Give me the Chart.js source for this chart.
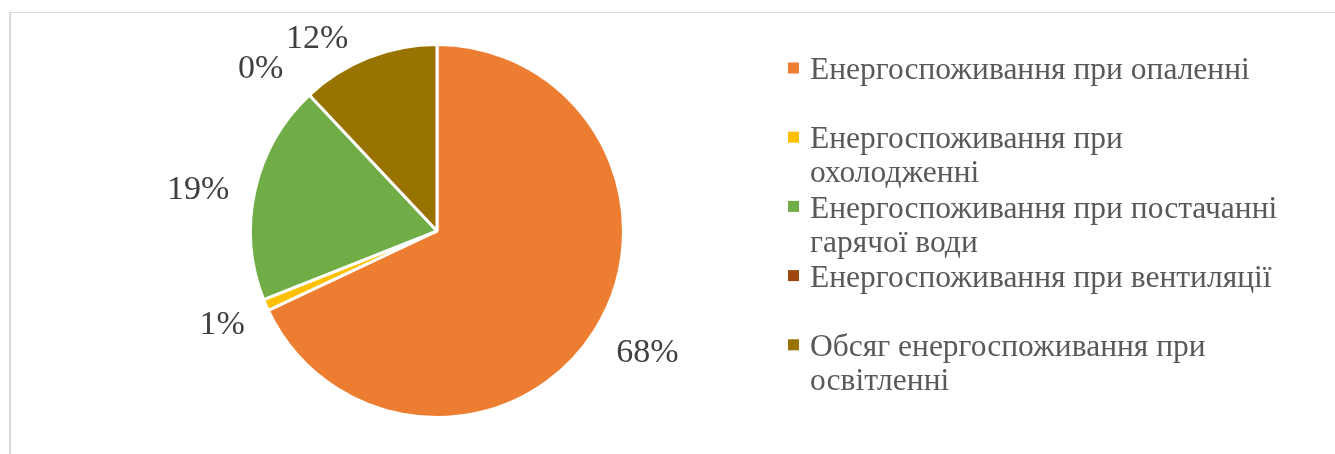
<!DOCTYPE html>
<html>
<head>
<meta charset="utf-8">
<script src="https://cdn.jsdelivr.net/npm/chart.js@4.4.1/dist/chart.umd.min.js"></script>
<style>
  html, body { margin: 0; padding: 0; background: #ffffff; overflow: hidden; }
  #wrap { position: relative; width: 1335px; height: 454px; }
  #frame { position: absolute; left: 9px; top: 12px; width: 1400px; height: 500px;
           border-top: 1px solid #d9d9d9; border-left: 2px solid #d9d9d9; }
  canvas { position: absolute; left: 0; top: 0; }
</style>
</head>
<body>
<div id="wrap">
  <div id="frame"></div>
  <canvas id="pie" width="1335" height="454"></canvas>
</div>
<script>
// Categories of energy use
const categories = [
  'Енергоспоживання при опаленні',
  'Енергоспоживання при охолодженні',
  'Енергоспоживання при постачанні гарячої води',
  'Енергоспоживання при вентиляції',
  'Обсяг енергоспоживання при освітленні'
];

// Share of each category, percent
const shares = [68, 1, 19, 0, 12];

// Slice colours
const sliceColors = ['#ED7D31', '#FFC000', '#70AD47', '#9E480E', '#997300'];

// Small nudges for the outside value labels [dx, dy]
const labelNudges = [[9, -6], [4, -1], [-6, 11], [-13, 12], [-32, 30]];

const serif = '"Liberation Serif", "Times New Roman", "DejaVu Serif", serif';

// Value labels placed outside each slice
const valueLabels = {
  id: 'valueLabels',
  afterDatasetsDraw(chart) {
    const ctx = chart.ctx;
    const meta = chart.getDatasetMeta(0);
    const values = chart.data.datasets[0].data;
    ctx.save();
    ctx.font = '34px ' + serif;
    ctx.fillStyle = '#404040';
    ctx.textAlign = 'center';
    ctx.textBaseline = 'middle';
    meta.data.forEach((arc, i) => {
      const p = arc.getProps(['x', 'y', 'startAngle', 'endAngle', 'outerRadius'], true);
      const mid = (p.startAngle + p.endAngle) / 2;
      const r = p.outerRadius + 52;
      const x = p.x + Math.cos(mid) * r + labelNudges[i][0];
      const y = p.y + Math.sin(mid) * r + labelNudges[i][1];
      ctx.fillText(values[i] + '%', x, y);
    });
    ctx.restore();
  }
};

// Legend at the right, wrapped to a fixed text width
const sideLegend = {
  id: 'sideLegend',
  afterDraw(chart) {
    const ctx = chart.ctx;
    const left = 788, textX = 810, top = 71, step = 69.2, lineH = 34, maxW = 482, box = 11;
    ctx.save();
    ctx.font = '31.5px ' + serif;
    ctx.textBaseline = 'middle';
    ctx.textAlign = 'left';
    chart.data.labels.forEach((label, i) => {
      const y0 = top + i * step;
      const col = chart.data.datasets[0].backgroundColor[i];
      ctx.fillStyle = col;
      ctx.fillRect(left, y0 - 3 - box / 2, box, box);
      // word wrap
      const words = label.split(' ');
      const lines = [];
      let cur = '';
      words.forEach(w => {
        const test = cur ? cur + ' ' + w : w;
        if (ctx.measureText(test).width > maxW && cur) { lines.push(cur); cur = w; }
        else cur = test;
      });
      if (cur) lines.push(cur);
      ctx.fillStyle = '#595959';
      lines.forEach((ln, k) => ctx.fillText(ln, textX, y0 + k * lineH));
    });
    ctx.restore();
  }
};

new Chart(document.getElementById('pie'), {
  type: 'pie',
  data: {
    labels: categories,
    datasets: [{
      data: shares,
      backgroundColor: sliceColors,
      borderColor: '#ffffff',
      borderWidth: 3
    }]
  },
  options: {
    responsive: false,
    animation: false,
    events: [],
    layout: { padding: { top: 43, bottom: 35, left: 249, right: 710 } },
    plugins: {
      legend: { display: false },
      tooltip: { enabled: false }
    }
  },
  plugins: [valueLabels, sideLegend]
});
</script>
</body>
</html>
